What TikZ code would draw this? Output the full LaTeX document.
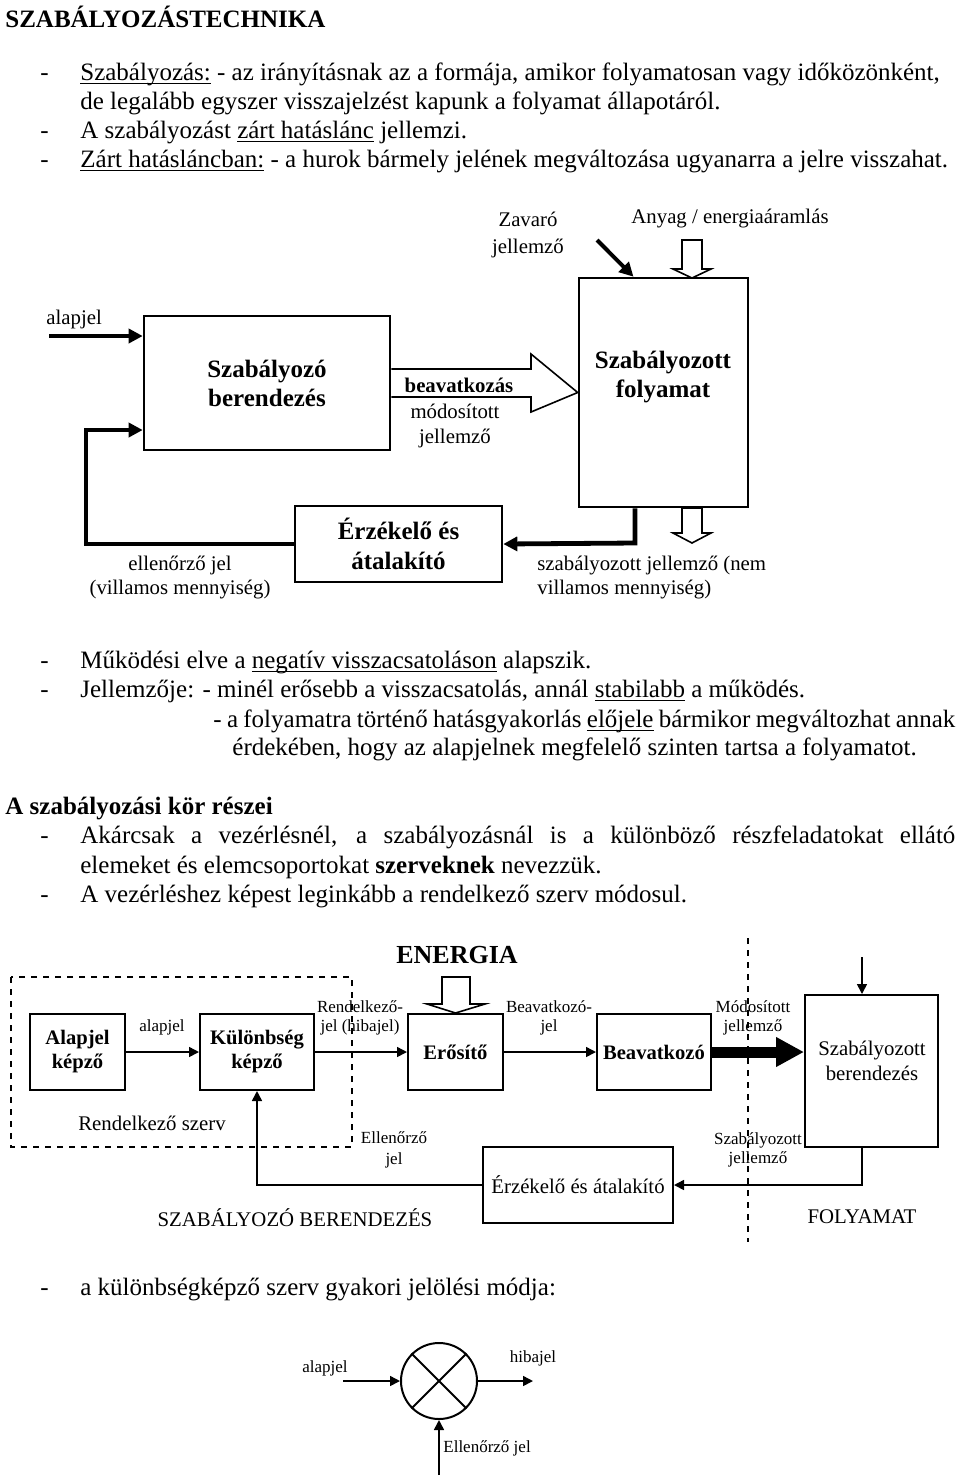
\documentclass[tikz,border=0pt]{standalone}
\usepackage{fontspec}
\setmainfont{Liberation Serif}
\usetikzlibrary{arrows.meta,calc,positioning}
\newcommand{\itemdash}{\makebox[20pt][l]{-}}
\newcommand{\ulbox}[1]{\setbox0=\hbox{#1}\rlap{\rule[-1.9pt]{\wd0}{0.55pt}}\box0\relax}

\begin{document}
\begin{tikzpicture}[x=0.5pt, y=-0.5pt,
  main/.style = {draw, rectangle, line width=1pt, inner sep=0pt, align=center},
  body/.style = {anchor=base west, inner sep=0pt, font=\fontsize{12.5}{14.5}\selectfont},
  lbl/.style = {inner sep=0pt, align=center, font=\fontsize{10.4}{13}\selectfont},
  tiny/.style = {inner sep=0pt, align=center, font=\fontsize{8.5}{9.5}\selectfont},
  fat/.style = {line width=2.4pt, -{Triangle[length=7pt,width=7pt]}},
  thin/.style = {line width=0.8pt, -{Triangle[length=5pt,width=5pt]}},
  hollow/.style = {draw, line width=0.8pt, fill=white}]

\useasboundingbox (0,0) rectangle (960,1480);

% bevezeto szoveg
\node[body, font=\bfseries\fontsize{12.5}{14.5}\selectfont] (cim) at (5,27) {SZABÁLYOZÁSTECHNIKA};
\node[body] (sor1) at (40,80) {\itemdash\ulbox{Szabályozás:} - az irányításnak az a formája, amikor folyamatosan vagy időközönként,};
\node[body] (sor2) at (80,109) {de legalább egyszer visszajelzést kapunk a folyamat állapotáról.};
\node[body] (sor3) at (40,138) {\itemdash A szabályozást \ulbox{zárt hatáslánc} jellemzi.};
\node[body] (sor4) at (40,167) {\itemdash\ulbox{Zárt hatásláncban:} - a hurok bármely jelének megváltozása ugyanarra a jelre visszahat.};

% felso abra
\node[main, line width=1.3pt, minimum width=123pt, minimum height=67pt,
  font=\bfseries\fontsize{12.5}{14.5}\selectfont] (szab) at (267,383) {Szabályozó\\berendezés};
\node[main, line width=1.3pt, minimum width=84.5pt, minimum height=114.5pt] (folyamat) at (663.5,392.5) {};
\node[inner sep=0pt, align=center, font=\bfseries\fontsize{12.5}{14.5}\selectfont] (folyamattext) at (663,377) {Szabályozott\\folyamat};
\node[main, line width=1.3pt, minimum width=103.5pt, minimum height=38pt,
  font=\bfseries\fontsize{12.5}{15}\selectfont] (erzek) at (398.5,544) {Érzékelő és\\átalakító};

\node[lbl, anchor=west] (alapjeltext) at (46,319) {alapjel};
\node[lbl, font=\fontsize{10.4}{13.5}\selectfont] (zavaro) at (528,235) {Zavaró\\jellemző};
\node[lbl] (anyag) at (730,219) {Anyag / energiaáramlás};
\node[lbl, font=\fontsize{10.4}{12.5}\selectfont] (modositott) at (455,426) {módosított\\jellemző};
\node[lbl, font=\fontsize{10.4}{12}\selectfont] (ellenorzo) at (180,577) {ellenőrző jel\\(villamos mennyiség)};
\node[lbl, align=left, anchor=west, font=\fontsize{10.4}{12}\selectfont] (szabjell) at (537,577) {szabályozott jellemző (nem\\villamos mennyiség)};

\coordinate (alapjelstart) at (49,336);
\coordinate (fbcorner) at (86,430);
\coordinate (outtap) at (635,543);
\coordinate (zavarostart) at (597,240);

\draw[fat] (alapjelstart) -- (alapjelstart -| szab.west);
\draw[fat] (erzek.west) -| (fbcorner) -- (fbcorner -| szab.west);
\draw[fat] (folyamat.south -| outtap) -- (outtap) -- (erzek.east);
\draw[fat, line width=2pt] (zavarostart) -- ($(folyamat.north west)!0.325!(folyamat.north east)$);

% ures nyilak
\draw[hollow] (682,240) -- (702,240) -- (702,269) -- (711,269) -- (692,278) -- (673,269) -- (682,269) -- cycle;
\draw[hollow] (682,508) -- (702,508) -- (702,533) -- (711,533) -- (692,543) -- (673,533) -- (682,533) -- cycle;
\draw[hollow] (szab.east |- 0,369) -- (531,369) -- (531,354) -- (folyamat.west) -- (531,412) -- (531,397) -- (szab.east |- 0,397);
\node[lbl, font=\bfseries\fontsize{10.4}{13}\selectfont] (beavatkozas) at (459,385) {beavatkozás};

% kozepso szoveg
\node[body] (sor5) at (40,668) {\itemdash M\H{u}ködési elve a \ulbox{negatív visszacsatoláson} alapszik.};
\node[body] (sor6) at (40,697) {\itemdash Jellemzője: - minél erősebb a visszacsatolás, annál \ulbox{stabilabb} a működés.};
\node[body] (sor7) at (213,727) {\makebox[371pt][s]{- a folyamatra történő hatásgyakorlás \ulbox{előjele} bármikor megváltozhat annak}};
\node[body] (sor8) at (232,755) {érdekében, hogy az alapjelnek megfelelő szinten tartsa a folyamatot.};
\node[body, font=\bfseries\fontsize{12.5}{14.5}\selectfont] (alcim) at (5,814) {A szabályozási kör részei};
\node[body] (sor9) at (40,843) {\itemdash\makebox[437.5pt][s]{Akárcsak a vezérlésnél, a szabályozásnál is a különböző részfeladatokat ellátó}};
\node[body] (sor10) at (80,873) {elemeket és elemcsoportokat \textbf{szerveknek} nevezzük.};
\node[body] (sor11) at (40,902) {\itemdash A vezérléshez képest leginkább a rendelkező szerv módosul.};

% also abra
\draw[dashed, line width=0.8pt] (11,977) rectangle (352,1147);
\draw[dashed, line width=0.8pt] (748,938) -- (748,1242);

\node[main, minimum width=47.5pt, minimum height=38pt, font=\bfseries\fontsize{10.3}{12}\selectfont] (alapkepzo) at (77.5,1052) {Alapjel\\képző};
\node[main, minimum width=57pt, minimum height=38pt, font=\bfseries\fontsize{10.3}{12}\selectfont] (kulonbseg) at (257,1052) {Különbség\\képző};
\node[main, minimum width=47.5pt, minimum height=38pt, font=\bfseries\fontsize{10.3}{12}\selectfont] (erosito) at (455.5,1052) {Erősítő};
\node[main, minimum width=57pt, minimum height=38pt, font=\bfseries\fontsize{10.3}{12}\selectfont] (beavatkozo) at (654,1052) {Beavatkozó};
\node[main, minimum width=66.5pt, minimum height=76pt] (berendezes) at (871.5,1071) {};
\node[lbl, font=\fontsize{10.4}{12.5}\selectfont] (berendezestext) at (872,1061) {Szabályozott\\berendezés};
\node[main, minimum width=95pt, minimum height=38pt, font=\fontsize{10.4}{12}\selectfont] (erzek2) at (578,1185) {Érzékelő és átalakító};

\node[inner sep=0pt, font=\bfseries\fontsize{13}{15}\selectfont] (energia) at (457,955) {ENERGIA};
\node[tiny] (alapjel2) at (162,1027) {alapjel};
\node[tiny] (rendjel) at (360,1018) {Rendelkező-\\jel (hibajel)};
\node[tiny] (beavjel) at (549,1018) {Beavatkozó-\\jel};
\node[tiny] (modjell) at (753,1018) {Módosított\\jellemző};
\node[lbl] (rendszerv) at (152,1123) {Rendelkező szerv};
\node[tiny, font=\fontsize{8.5}{10.5}\selectfont] (ellenjel) at (394,1150) {Ellenőrző\\jel};
\node[tiny] (szabjell2) at (758,1150) {Szabályozott\\jellemző};
\node[lbl] (szabber) at (295,1218) {SZABÁLYOZÓ BERENDEZÉS};
\node[lbl] (folyam) at (862,1217) {FOLYAMAT};

\coordinate (tapx) at (862,957);

\draw[thin] (alapkepzo) -- (kulonbseg);
\draw[thin] (kulonbseg) -- (erosito);
\draw[thin] (erosito) -- (beavatkozo);
\draw[line width=5.5pt, -{Triangle[length=14pt,width=14pt]}] (beavatkozo.east) -- (beavatkozo.east -| berendezes.west);
\draw[thin] (tapx) -- (tapx |- berendezes.north);
\draw[thin] (berendezes.south -| tapx) |- (erzek2.east);
\draw[thin] (erzek2.west) -| (kulonbseg.south);
\draw[hollow] (442,977) -- (470,977) -- (470,1004) -- (485,1004) -- (erosito.north) -- (427,1004) -- (442,1004) -- cycle;

% also szoveg
\node[body] (sor12) at (40,1295) {\itemdash a különbségképző szerv gyakori jelölési módja:};

% kulonbsegkepzo jele
\node[draw, circle, line width=1pt, minimum size=38pt, inner sep=0pt] (osszegzo) at (439,1381) {};
\draw[line width=1pt] (osszegzo.north west) -- (osszegzo.south east) (osszegzo.north east) -- (osszegzo.south west);
\coordinate (bealapjel) at (343,1381);
\coordinate (kihibajel) at (533,1381);
\coordinate (beellen) at (439,1475);
\draw[thin] (bealapjel) -- (osszegzo.west);
\draw[thin] (osszegzo.east) -- (kihibajel);
\draw[thin] (beellen) -- (osszegzo.south);
\node[tiny] (alapjel3) at (325,1368) {alapjel};
\node[tiny] (hibajel) at (533,1358) {hibajel};
\node[tiny, anchor=west] (ellenjel2) at (443,1448) {Ellenőrző jel};
\end{tikzpicture}
\end{document}
